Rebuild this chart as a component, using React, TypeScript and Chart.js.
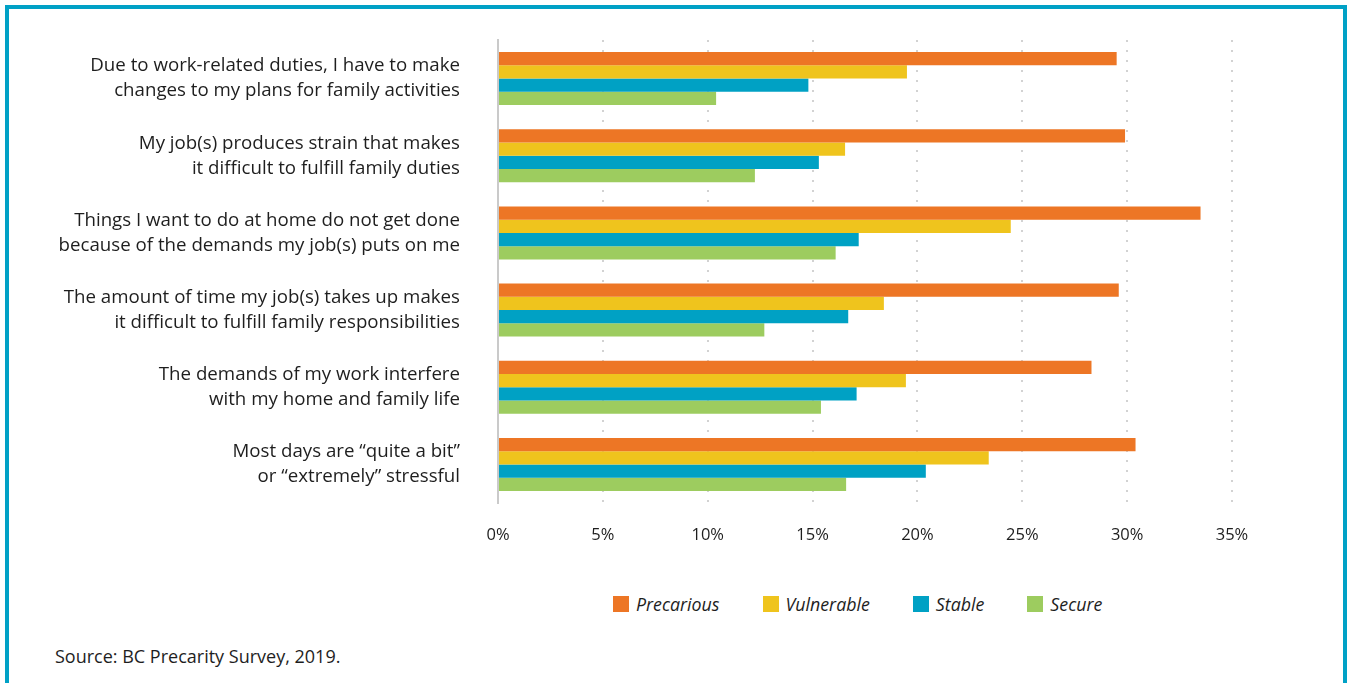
import React, { useEffect, useRef } from "react";
import { Chart, registerables } from "chart.js";

Chart.register(...registerables);

const categories: string[][] = [
  ["Due to work-related duties, I have to make", "changes to my plans for family activities"],
  ["My job(s) produces strain that makes", "it difficult to fulfill family duties"],
  ["Things I want to do at home do not get done", "because of the demands my job(s) puts on me"],
  ["The amount of time my job(s) takes up makes", "it difficult to fulfill family responsibilities"],
  ["The demands of my work interfere", "with my home and family life"],
  ["Most days are \u201cquite a bit\u201d", "or \u201cextremely\u201d stressful"],
];

const seriesNames = ["Precarious", "Vulnerable", "Stable", "Secure"];
const seriesColors = ["#ED7625", "#EFC41D", "#00A1C4", "#9DCC5F"];

const precarious = [29.5, 29.9, 33.5, 29.6, 28.3, 30.4];
const vulnerable = [19.5, 16.55, 24.45, 18.4, 19.45, 23.4];
const stable = [14.8, 15.3, 17.2, 16.7, 17.1, 20.4];
const secure = [10.4, 12.25, 16.1, 12.7, 15.4, 16.6];

const xMin = 0;
const xMax = 35;
const xStep = 5;

const FONT = "'Open Sans', Lato, sans-serif";
const TEXT = "#1e1e1e";

export default function App() {
  const canvasRef = useRef<HTMLCanvasElement | null>(null);

  useEffect(() => {
    if (!canvasRef.current) return;
    const values = [precarious, vulnerable, stable, secure];
    const chart = new Chart(canvasRef.current, {
      type: "bar",
      data: {
        labels: categories,
        datasets: seriesNames.map((name, i) => ({
          label: name,
          data: values[i],
          backgroundColor: seriesColors[i],
          borderWidth: 0,
          barPercentage: 1,
          categoryPercentage: 0.687,
        })),
      },
      options: {
        indexAxis: "y",
        animation: false,
        responsive: false,
        maintainAspectRatio: false,
        layout: { padding: { top: 40, right: 116, left: 0, bottom: 0 } },
        plugins: { legend: { display: false }, tooltip: { enabled: false } },
        scales: {
          x: {
            min: xMin,
            max: xMax,
            ticks: {
              stepSize: xStep,
              callback: (v: any) => `${v}%`,
              font: { family: FONT, size: 16.5 },
              color: TEXT,
              padding: 22,
            },
            grid: {
              color: (ctx: any) => (ctx.index === 0 ? "rgba(0,0,0,0)" : "#d2d2d2"),
              lineWidth: 2,
              drawTicks: false,
            },
            border: { display: false, dash: [2, 8] },
            afterFit: (s: any) => {
              s.height = 570 - 503;
              s.paddingLeft = 0;
              s.paddingRight = 0;
            },
          },
          y: {
            grid: { display: false, drawTicks: false },
            border: { display: true, color: "#cacaca", width: 2 },
            ticks: {
              font: { family: FONT, size: 18.7, lineHeight: 1.337 },
              color: TEXT,
              padding: 38,
            },
            afterFit: (s: any) => {
              s.width = 498;
              s.paddingTop = 0;
              s.paddingBottom = 0;
            },
          },
        },
      },
    });
    return () => chart.destroy();
  }, []);

  return (
    <div
      style={{
        position: "absolute",
        left: 0,
        top: 0,
        width: 1348,
        height: 683,
        background: "#fff",
        overflow: "hidden",
        fontFamily: FONT,
        color: TEXT,
      }}
    >
      <div
        style={{
          position: "absolute",
          left: 5,
          top: 5,
          width: 1334,
          height: 760,
          border: "4px solid #00A1C6",
        }}
      />
      <canvas
        ref={canvasRef}
        width={1348}
        height={570}
        style={{ position: "absolute", left: 0, top: 0, width: 1348, height: 570 }}
      />
      <div
        style={{
          position: "absolute",
          left: 613,
          top: 592,
          display: "flex",
          alignItems: "center",
          height: 24,
          whiteSpace: "nowrap",
        }}
      >
        {seriesNames.map((name, i) => (
          <div key={name} style={{ display: "flex", alignItems: "center", marginRight: 43 }}>
            <div style={{ width: 16, height: 16, background: seriesColors[i], marginRight: 7 }} />
            <span style={{ fontStyle: "italic", fontSize: 17.8 }}>{name}</span>
          </div>
        ))}
      </div>
      <div style={{ position: "absolute", left: 55, top: 644, fontSize: 18, whiteSpace: "nowrap" }}>
        Source: BC Precarity Survey, 2019.
      </div>
    </div>
  );
}
